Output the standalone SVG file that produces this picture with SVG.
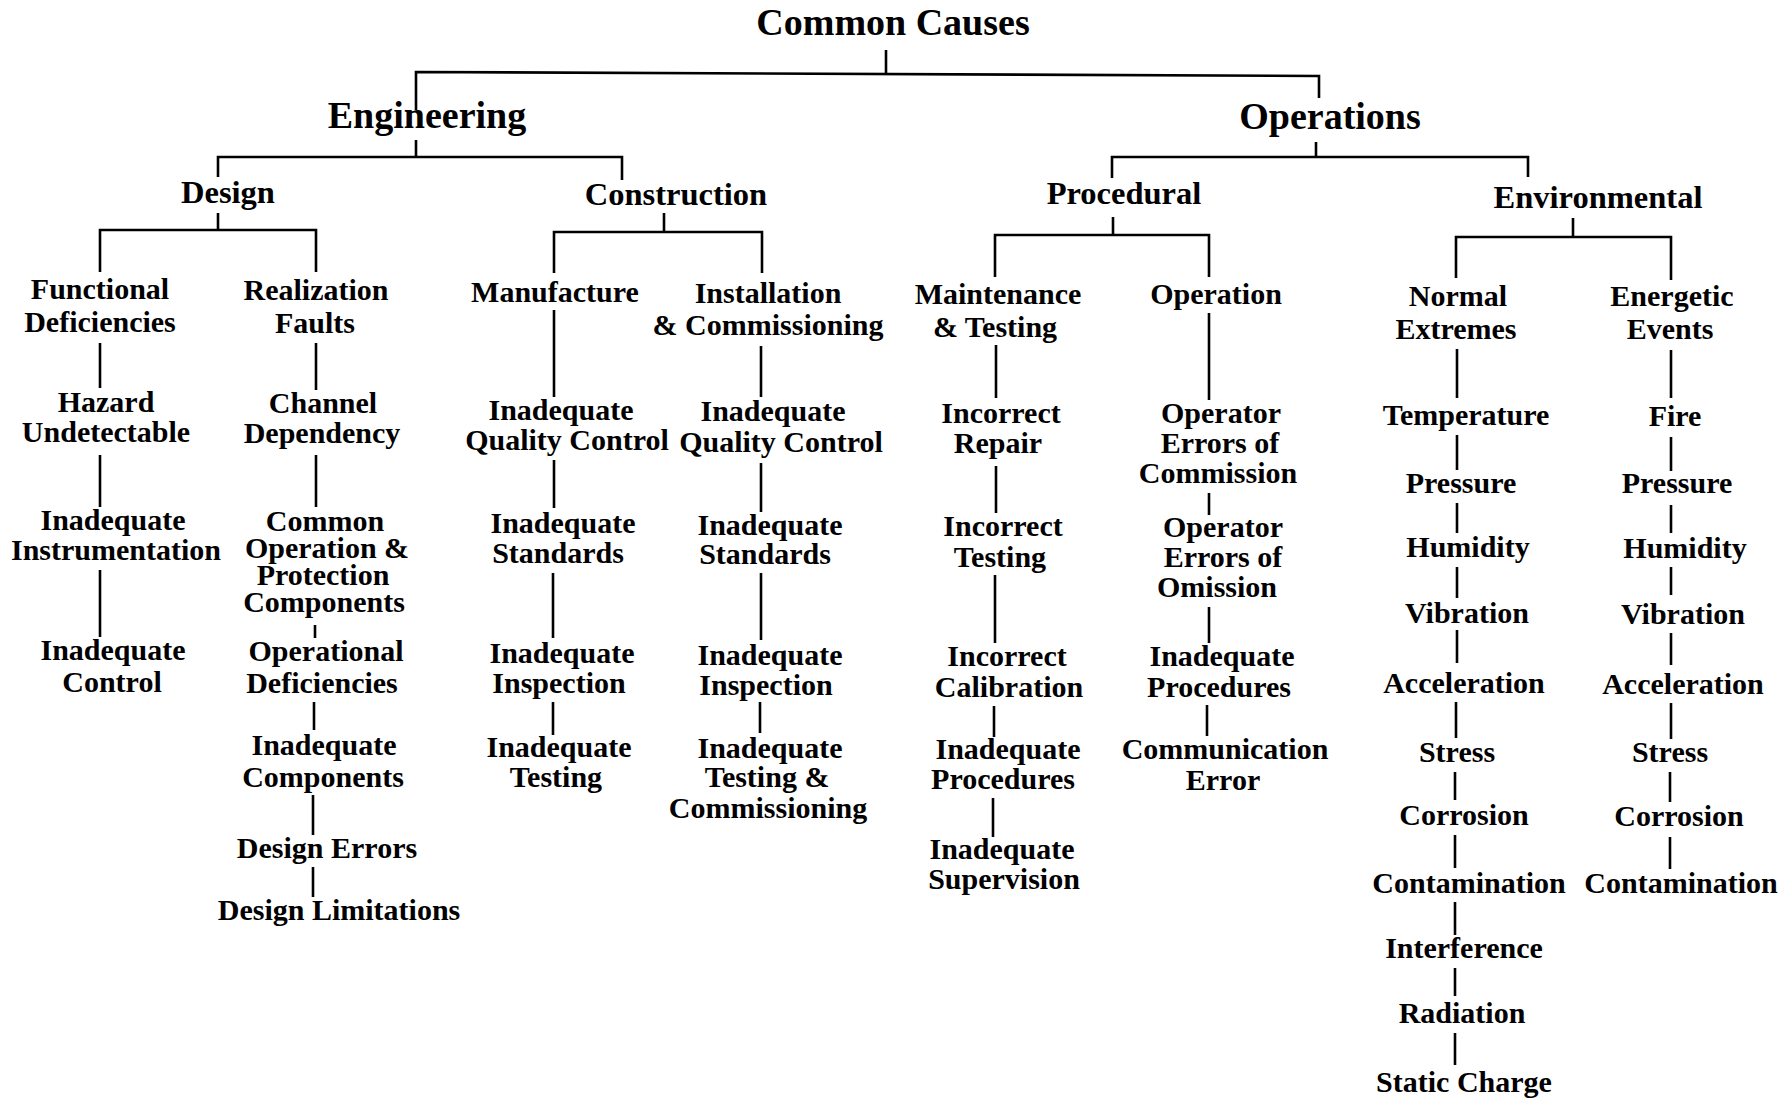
<svg xmlns="http://www.w3.org/2000/svg" width="1786" height="1101" viewBox="0 0 1786 1101">
  <style>
    text { font-family: "Liberation Serif", "Times New Roman", serif; font-weight: bold; fill: #000; text-anchor: middle; }
    .h1 { font-size: 38px; }
    .h2 { font-size: 32.5px; }
    .n { font-size: 30px; }
    .wire { fill: none; stroke: #000; stroke-width: 2.6; stroke-linecap: butt; stroke-linejoin: miter; }
  </style>
  <rect width="1786" height="1101" fill="#fff"/>

  <!-- tree connectors -->
  <g id="connectors" class="wire">
    <!-- root level -->
    <path d="M886,50 V73"/>
    <path d="M416,110 V72 L1319,76 V98"/>
    <!-- Engineering -->
    <path d="M416,140 V157"/>
    <path d="M218,177 V157 H622 V180"/>
    <!-- Operations -->
    <path d="M1316,142 V157"/>
    <path d="M1112,178 V157 H1528 V177"/>
    <!-- Design -->
    <path d="M218,213 V230"/>
    <path d="M100,272 V230 H316 V272"/>
    <!-- Construction -->
    <path d="M664,213 V232"/>
    <path d="M554,273 V232 H762 V273"/>
    <!-- Procedural -->
    <path d="M1113,217 V235"/>
    <path d="M995,277 V235 H1209 V277"/>
    <!-- Environmental -->
    <path d="M1573,218 V237"/>
    <path d="M1456,278 V237 H1671 V280"/>

    <!-- Functional Deficiencies chain -->
    <path d="M100,343 V388"/>
    <path d="M100,455 V507"/>
    <path d="M100,570 V637"/>
    <!-- Realization Faults chain -->
    <path d="M316,343 V390"/>
    <path d="M316,455 V507"/>
    <path d="M315,625 V638"/>
    <path d="M314,702 V730"/>
    <path d="M313,795 V835"/>
    <path d="M313,867 V897"/>
    <!-- Manufacture chain -->
    <path d="M554,310 V397"/>
    <path d="M554,460 V508"/>
    <path d="M553,573 V638"/>
    <path d="M553,702 V735"/>
    <!-- Installation chain -->
    <path d="M761,346 V397"/>
    <path d="M761,463 V512"/>
    <path d="M761,573 V640"/>
    <path d="M760,702 V733"/>
    <!-- Maintenance chain -->
    <path d="M996,345 V398"/>
    <path d="M996,466 V513"/>
    <path d="M995,575 V643"/>
    <path d="M994,706 V737"/>
    <path d="M993,798 V837"/>
    <!-- Operation chain -->
    <path d="M1209,313 V400"/>
    <path d="M1209,493 V515"/>
    <path d="M1209,607 V643"/>
    <path d="M1207,705 V736"/>
    <!-- Normal Extremes chain -->
    <path d="M1457,349 V398"/>
    <path d="M1457,435 V470"/>
    <path d="M1457,503 V533"/>
    <path d="M1457,567 V598"/>
    <path d="M1457,630 V663"/>
    <path d="M1456,702 V738"/>
    <path d="M1455,772 V800"/>
    <path d="M1455,835 V868"/>
    <path d="M1455,902 V935"/>
    <path d="M1455,968 V996"/>
    <path d="M1455,1033 V1065"/>
    <!-- Energetic Events chain -->
    <path d="M1671,350 V398"/>
    <path d="M1671,437 V471"/>
    <path d="M1671,505 V533"/>
    <path d="M1671,567 V595"/>
    <path d="M1671,633 V665"/>
    <path d="M1671,703 V739"/>
    <path d="M1670,772 V802"/>
    <path d="M1670,837 V869"/>
  </g>

  <!-- top levels -->
  <g id="common-causes"><text class="h1" x="893" y="35">Common Causes</text></g>
  <g id="engineering"><text class="h1" x="427" y="128">Engineering</text></g>
  <g id="operations"><text class="h1" x="1330" y="129">Operations</text></g>
  <g id="design"><text class="h2" x="228" y="203">Design</text></g>
  <g id="construction"><text class="h2" x="676" y="205">Construction</text></g>
  <g id="procedural"><text class="h2" x="1124" y="204">Procedural</text></g>
  <g id="environmental"><text class="h2" x="1598" y="208">Environmental</text></g>

  <!-- Design: functional deficiencies -->
  <g id="functional-deficiencies"><text class="n" x="100"><tspan x="100" y="299">Functional</tspan><tspan x="100" y="332">Deficiencies</tspan></text></g>
  <g id="hazard-undetectable"><text class="n"><tspan x="106" y="412">Hazard</tspan><tspan x="106" y="442">Undetectable</tspan></text></g>
  <g id="inadequate-instrumentation"><text class="n"><tspan x="113" y="530">Inadequate</tspan><tspan x="116" y="560">Instrumentation</tspan></text></g>
  <g id="inadequate-control"><text class="n"><tspan x="113" y="660">Inadequate</tspan><tspan x="112" y="692">Control</tspan></text></g>

  <!-- Design: realization faults -->
  <g id="realization-faults"><text class="n"><tspan x="316" y="300">Realization</tspan><tspan x="315" y="333">Faults</tspan></text></g>
  <g id="channel-dependency"><text class="n"><tspan x="323" y="413">Channel</tspan><tspan x="322" y="443">Dependency</tspan></text></g>
  <g id="common-operation-protection"><text class="n"><tspan x="325" y="531">Common</tspan><tspan x="327" y="558">Operation &amp;</tspan><tspan x="323" y="585">Protection</tspan><tspan x="324" y="612">Components</tspan></text></g>
  <g id="operational-deficiencies"><text class="n"><tspan x="326" y="661">Operational</tspan><tspan x="322" y="693">Deficiencies</tspan></text></g>
  <g id="inadequate-components"><text class="n"><tspan x="324" y="755">Inadequate</tspan><tspan x="323" y="787">Components</tspan></text></g>
  <g id="design-errors"><text class="n" x="327" y="858">Design Errors</text></g>
  <g id="design-limitations"><text class="n" x="339" y="920">Design Limitations</text></g>

  <!-- Construction: manufacture -->
  <g id="manufacture"><text class="n" x="555" y="302">Manufacture</text></g>
  <g id="mfg-quality-control"><text class="n"><tspan x="561" y="420">Inadequate</tspan><tspan x="567" y="450">Quality Control</tspan></text></g>
  <g id="mfg-standards"><text class="n"><tspan x="563" y="533">Inadequate</tspan><tspan x="558" y="563">Standards</tspan></text></g>
  <g id="mfg-inspection"><text class="n"><tspan x="562" y="663">Inadequate</tspan><tspan x="559" y="693">Inspection</tspan></text></g>
  <g id="mfg-testing"><text class="n"><tspan x="559" y="757">Inadequate</tspan><tspan x="556" y="787">Testing</tspan></text></g>

  <!-- Construction: installation -->
  <g id="installation-commissioning"><text class="n"><tspan x="768" y="303">Installation</tspan><tspan x="768" y="335">&amp; Commissioning</tspan></text></g>
  <g id="inst-quality-control"><text class="n"><tspan x="773" y="421">Inadequate</tspan><tspan x="781" y="452">Quality Control</tspan></text></g>
  <g id="inst-standards"><text class="n"><tspan x="770" y="535">Inadequate</tspan><tspan x="765" y="564">Standards</tspan></text></g>
  <g id="inst-inspection"><text class="n"><tspan x="770" y="665">Inadequate</tspan><tspan x="766" y="695">Inspection</tspan></text></g>
  <g id="inst-testing-commissioning"><text class="n"><tspan x="770" y="758">Inadequate</tspan><tspan x="767" y="787">Testing &amp;</tspan><tspan x="768" y="818">Commissioning</tspan></text></g>

  <!-- Procedural: maintenance & testing -->
  <g id="maintenance-testing"><text class="n"><tspan x="998" y="304">Maintenance</tspan><tspan x="995" y="337">&amp; Testing</tspan></text></g>
  <g id="incorrect-repair"><text class="n"><tspan x="1001" y="423">Incorrect</tspan><tspan x="998" y="453">Repair</tspan></text></g>
  <g id="incorrect-testing"><text class="n"><tspan x="1003" y="536">Incorrect</tspan><tspan x="1000" y="567">Testing</tspan></text></g>
  <g id="incorrect-calibration"><text class="n"><tspan x="1007" y="666">Incorrect</tspan><tspan x="1009" y="697">Calibration</tspan></text></g>
  <g id="maint-procedures"><text class="n"><tspan x="1008" y="759">Inadequate</tspan><tspan x="1003" y="789">Procedures</tspan></text></g>
  <g id="inadequate-supervision"><text class="n"><tspan x="1002" y="859">Inadequate</tspan><tspan x="1004" y="889">Supervision</tspan></text></g>

  <!-- Procedural: operation -->
  <g id="operation"><text class="n" x="1216" y="304">Operation</text></g>
  <g id="errors-commission"><text class="n"><tspan x="1221" y="423">Operator</tspan><tspan x="1220" y="453">Errors of</tspan><tspan x="1218" y="483">Commission</tspan></text></g>
  <g id="errors-omission"><text class="n"><tspan x="1223" y="537">Operator</tspan><tspan x="1223" y="567">Errors of</tspan><tspan x="1217" y="597">Omission</tspan></text></g>
  <g id="oper-procedures"><text class="n"><tspan x="1222" y="666">Inadequate</tspan><tspan x="1219" y="697">Procedures</tspan></text></g>
  <g id="communication-error"><text class="n"><tspan x="1225" y="759">Communication</tspan><tspan x="1223" y="790">Error</tspan></text></g>

  <!-- Environmental: normal extremes -->
  <g id="normal-extremes"><text class="n"><tspan x="1458" y="306">Normal</tspan><tspan x="1456" y="339">Extremes</tspan></text></g>
  <g id="ne-temperature"><text class="n" x="1466" y="425">Temperature</text></g>
  <g id="ne-pressure"><text class="n" x="1461" y="493">Pressure</text></g>
  <g id="ne-humidity"><text class="n" x="1468" y="557">Humidity</text></g>
  <g id="ne-vibration"><text class="n" x="1467" y="623">Vibration</text></g>
  <g id="ne-acceleration"><text class="n" x="1464" y="693">Acceleration</text></g>
  <g id="ne-stress"><text class="n" x="1457" y="762">Stress</text></g>
  <g id="ne-corrosion"><text class="n" x="1464" y="825">Corrosion</text></g>
  <g id="ne-contamination"><text class="n" x="1469" y="893">Contamination</text></g>
  <g id="ne-interference"><text class="n" x="1464" y="958">Interference</text></g>
  <g id="ne-radiation"><text class="n" x="1462" y="1023">Radiation</text></g>
  <g id="ne-static-charge"><text class="n" x="1464" y="1092">Static Charge</text></g>

  <!-- Environmental: energetic events -->
  <g id="energetic-events"><text class="n"><tspan x="1672" y="306">Energetic</tspan><tspan x="1670" y="339">Events</tspan></text></g>
  <g id="ee-fire"><text class="n" x="1675" y="426">Fire</text></g>
  <g id="ee-pressure"><text class="n" x="1677" y="493">Pressure</text></g>
  <g id="ee-humidity"><text class="n" x="1685" y="558">Humidity</text></g>
  <g id="ee-vibration"><text class="n" x="1683" y="624">Vibration</text></g>
  <g id="ee-acceleration"><text class="n" x="1683" y="694">Acceleration</text></g>
  <g id="ee-stress"><text class="n" x="1670" y="762">Stress</text></g>
  <g id="ee-corrosion"><text class="n" x="1679" y="826">Corrosion</text></g>
  <g id="ee-contamination"><text class="n" x="1681" y="893">Contamination</text></g>
</svg>
